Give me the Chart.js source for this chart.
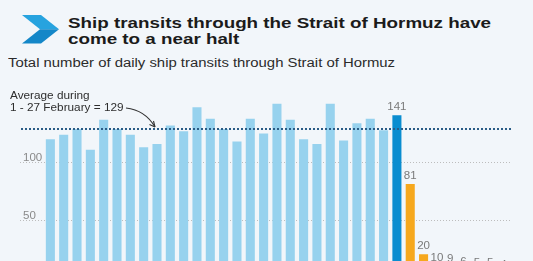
<!DOCTYPE html>
<html>
<head>
<meta charset="utf-8">
<script src="https://cdn.jsdelivr.net/npm/chart.js@4/dist/chart.umd.min.js"></script>
<style>
  html, body { margin: 0; padding: 0; }
  body {
    width: 533px; height: 261px; overflow: hidden; position: relative;
    background: #f2f6fa; font-family: "Liberation Sans", Arial, sans-serif;
  }
  .logo { position: absolute; left: 22px; top: 15px; }
  .title {
    position: absolute; left: 68px; top: 14.6px; margin: 0; white-space: nowrap;
    font-size: 15.5px; line-height: 16px; font-weight: bold; color: #1b1b1b;
    transform: scaleX(1.213); transform-origin: left top;
  }
  .subtitle {
    position: absolute; left: 7.5px; top: 55.5px; margin: 0; white-space: nowrap;
    font-size: 12px; line-height: 14px; color: #2b2b2b;
    transform: scaleX(1.24); transform-origin: left top;
  }
  #wrap { position: absolute; left: 0; top: 0; width: 533px; height: 290px; }
</style>
</head>
<body>
<svg class="logo" width="38" height="29" viewBox="0 0 38 29">
  <polygon points="0,0 19,0 37,14.3 18,14.3" fill="#27a3df"/>
  <polygon points="18,14.3 37,14.3 19,28.6 0,28.6" fill="#1487c8"/>
</svg>
<h1 class="title">Ship transits through the Strait of Hormuz have<br>come to a near halt</h1>
<p class="subtitle">Total number of daily ship transits through Strait of Hormuz</p>
<div id="wrap"><canvas id="chart"></canvas></div>
<script>
// daily transits
const febDays = ['2 Feb','3 Feb','4 Feb','5 Feb','6 Feb','7 Feb','8 Feb','9 Feb','10 Feb','11 Feb','12 Feb','13 Feb','14 Feb',
  '15 Feb','16 Feb','17 Feb','18 Feb','19 Feb','20 Feb','21 Feb','22 Feb','23 Feb','24 Feb','25 Feb','26 Feb','27 Feb'];
const febValues = [120, 124, 129, 111, 137, 129, 124, 113, 116, 132, 127, 148, 138,
  129, 118, 138, 125, 151, 137, 120, 116, 151, 119, 134, 138, 128];
const peakDay = ['28 Feb'];
const peakValue = [141];
const marchDays = ['1 Mar','2 Mar','3 Mar','4 Mar','5 Mar','6 Mar','7 Mar','8 Mar'];
const marchValues = [81, 20, 10, 9, 6, 5, 5, 4];
const febAverage = 129;
const yTicks = [50, 100];
const annotationLines = ['Average during', '1 - 27 February = 129'];

const labels = [...febDays, ...peakDay, ...marchDays];
const values = [...febValues, ...peakValue, ...marchValues];
const nFeb = febValues.length;

const LIGHT = '#97d2ee', DARK = '#0a8dd0', ORANGE = '#f6a81d';
const FONT = '"Liberation Sans", Arial, sans-serif';

// text a little wider than the font, like the source picture
function wideText(ctx, text, x, y, sx) {
  ctx.save();
  ctx.translate(x, y);
  ctx.scale(sx, 1);
  ctx.fillText(text, 0, 0);
  ctx.restore();
}

const overlay = {
  id: 'overlay',
  beforeDatasetsDraw(chart) {
    const { ctx, scales: { y } } = chart;
    ctx.save();
    ctx.strokeStyle = '#bdbdbd';
    ctx.lineWidth = 1;
    ctx.setLineDash([1, 2]);
    ctx.fillStyle = '#8a8a8a';
    ctx.font = '10.5px ' + FONT;
    ctx.textAlign = 'left';
    ctx.textBaseline = 'alphabetic';
    yTicks.forEach(t => {
      const py = Math.round(y.getPixelForValue(t)) + 0.5;
      ctx.beginPath();
      ctx.moveTo(20, py);
      ctx.lineTo(511, py);
      ctx.stroke();
      wideText(ctx, String(t), 23, py - 2, 1.1);
    });
    ctx.restore();
  },
  afterDatasetsDraw(chart) {
    const { ctx, scales: { y } } = chart;
    const meta = chart.getDatasetMeta(0);
    ctx.save();
    // average line
    const ay = y.getPixelForValue(febAverage);
    ctx.strokeStyle = '#2a5c86';
    ctx.lineWidth = 2;
    ctx.setLineDash([2, 2]);
    ctx.beginPath();
    ctx.moveTo(21, ay);
    ctx.lineTo(511, ay);
    ctx.stroke();
    ctx.setLineDash([]);

    // annotation
    ctx.fillStyle = '#2e2e2e';
    ctx.font = '11px ' + FONT;
    ctx.textAlign = 'left';
    ctx.textBaseline = 'middle';
    wideText(ctx, annotationLines[0], 10, ay - 33.3, 1.07);
    wideText(ctx, annotationLines[1], 10, ay - 20.8, 1.07);
    // arrow
    const sx = 126, sy = ay - 21, ex = 155, ey = ay - 2;
    ctx.strokeStyle = '#333';
    ctx.lineWidth = 1.1;
    ctx.beginPath();
    ctx.moveTo(sx, sy);
    ctx.quadraticCurveTo(145, ay - 19, ex, ey);
    ctx.stroke();
    ctx.beginPath();
    ctx.moveTo(ex, ey);
    ctx.lineTo(ex - 5.5, ey - 2.5);
    ctx.moveTo(ex, ey);
    ctx.lineTo(ex - 1.5, ey - 6);
    ctx.stroke();

    // value labels
    ctx.fillStyle = '#7a7a7a';
    ctx.font = '10.5px ' + FONT;
    ctx.textAlign = 'center';
    ctx.textBaseline = 'alphabetic';
    meta.data.forEach((bar, i) => {
      if (i < nFeb) return;
      wideText(ctx, String(values[i]), bar.x, bar.y - 5, 1.1);
    });
    ctx.restore();
  }
};

new Chart(document.getElementById('chart'), {
  type: 'bar',
  data: {
    labels,
    datasets: [{
      data: values,
      backgroundColor: ctx => ctx.dataIndex < nFeb ? LIGHT : (ctx.dataIndex === nFeb ? DARK : ORANGE),
      borderWidth: 0,
      barPercentage: 0.68,
      categoryPercentage: 1
    }]
  },
  options: {
    responsive: true,
    maintainAspectRatio: false,
    animation: false,
    layout: { padding: { left: 43.7, right: 22.8, top: 93.4, bottom: 12.9 } },
    plugins: { legend: { display: false }, tooltip: { enabled: false } },
    scales: {
      x: { display: false, offset: true },
      y: { display: false, min: 0, max: 160 }
    }
  },
  plugins: [overlay]
});
</script>
</body>
</html>
